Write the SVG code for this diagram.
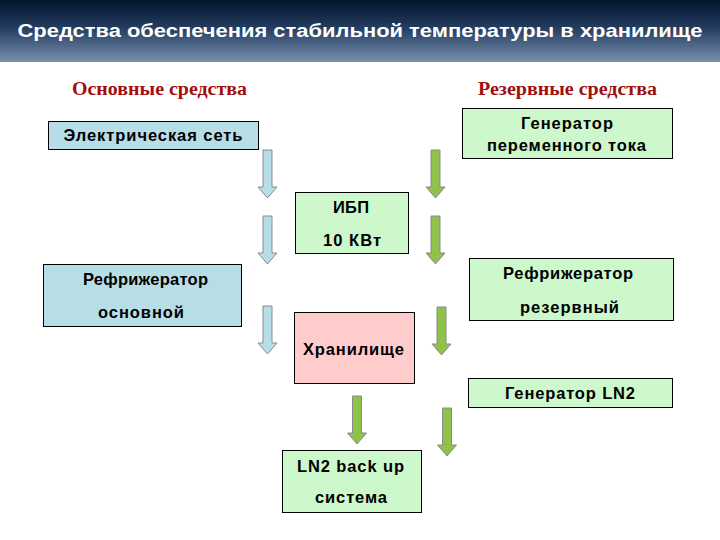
<svg xmlns="http://www.w3.org/2000/svg" xmlns:xlink="http://www.w3.org/1999/xlink" width="720" height="540" viewBox="0 0 720 540">
<defs>
<linearGradient id="hdr" x1="0" y1="0" x2="0" y2="1">
<stop offset="0" stop-color="#03142c"/>
<stop offset="0.45" stop-color="#243d60"/>
<stop offset="1" stop-color="#7890ae"/>
</linearGradient>
<path id="arr" d="M-4.5,0 H4.5 V37 H9.5 L0,48 L-9.5,37 H-4.5 Z"/>
</defs>
<style>
.box{stroke:#000;stroke-width:1}
.blue{fill:#b7dde6}
.green{fill:#ccf8cc}
.pink{fill:#ffcccc}
.t{font-family:"Liberation Sans",Arial,sans-serif;font-weight:bold;font-size:16.5px;fill:#000;text-anchor:middle}
.h{font-family:"Liberation Serif","Times New Roman",serif;font-weight:bold;font-size:18px;fill:#a00f0f;text-anchor:middle}
.ab{fill:#b7dde6;stroke:#8a8a8a;stroke-width:1}
.ag{fill:#8fc14b;stroke:#8a8a8a;stroke-width:1}
</style>
<rect width="720" height="540" fill="#fff"/>
<rect x="0" y="0" width="720" height="62" fill="url(#hdr)"/>
<text x="360" y="37" font-family="Liberation Sans,Arial,sans-serif" font-weight="bold" font-size="18.5" fill="#fff" text-anchor="middle" textLength="685" lengthAdjust="spacingAndGlyphs">Средства обеспечения стабильной температуры в хранилище</text>
<text class="h" x="159.5" y="95" textLength="175" lengthAdjust="spacingAndGlyphs">Основные средства</text>
<text class="h" x="567.5" y="95" textLength="179" lengthAdjust="spacingAndGlyphs">Резервные средства</text>
<g id="connectors">
<use href="#arr" class="ab" x="267.5" y="150"/>
<use href="#arr" class="ab" x="267.5" y="216"/>
<use href="#arr" class="ab" x="267.5" y="306"/>
<use href="#arr" class="ag" x="435.5" y="150"/>
<use href="#arr" class="ag" x="435.5" y="216"/>
<use href="#arr" class="ag" x="441.5" y="307"/>
<use href="#arr" class="ag" x="357" y="396"/>
<use href="#arr" class="ag" x="447" y="408"/>
</g>
<g id="elnet">
<rect class="box blue" x="48.5" y="121.5" width="210" height="28"/>
<text class="t" x="153" y="141" textLength="179" lengthAdjust="spacing">Электрическая сеть</text>
</g>
<g id="gen">
<rect class="box green" x="462.5" y="108.5" width="210" height="50"/>
<text class="t" x="567" y="129" textLength="92" lengthAdjust="spacing">Генератор</text>
<text class="t" x="566.5" y="151" textLength="159" lengthAdjust="spacing">переменного тока</text>
</g>
<g id="ups">
<rect class="box green" x="295.5" y="192.5" width="113" height="61"/>
<text class="t" x="351" y="213" textLength="36" lengthAdjust="spacing">ИБП</text>
<text class="t" x="352" y="246" textLength="58" lengthAdjust="spacing">10 КВт</text>
</g>
<g id="refmain">
<rect class="box blue" x="43.5" y="264.5" width="198" height="62"/>
<text class="t" x="145.5" y="285" textLength="125" lengthAdjust="spacing">Рефрижератор</text>
<text class="t" x="141" y="318" textLength="86" lengthAdjust="spacing">основной</text>
</g>
<g id="refres">
<rect class="box green" x="469.5" y="258.5" width="204" height="62"/>
<text class="t" x="568" y="279" textLength="130" lengthAdjust="spacing">Рефрижератор</text>
<text class="t" x="569.5" y="313" textLength="99" lengthAdjust="spacing">резервный</text>
</g>
<g id="storage">
<rect class="box pink" x="294.5" y="312.5" width="120" height="71"/>
<text class="t" x="353.5" y="355" textLength="101" lengthAdjust="spacing">Хранилище</text>
</g>
<g id="genln2">
<rect class="box green" x="468.5" y="378.5" width="204" height="29"/>
<text class="t" x="570" y="399" textLength="130" lengthAdjust="spacing">Генератор LN2</text>
</g>
<g id="ln2backup">
<rect class="box green" x="282.5" y="450.5" width="139" height="62"/>
<text class="t" x="350.5" y="472" textLength="107" lengthAdjust="spacing">LN2 back up</text>
<text class="t" x="351" y="503" textLength="72" lengthAdjust="spacing">система</text>
</g>
</svg>
